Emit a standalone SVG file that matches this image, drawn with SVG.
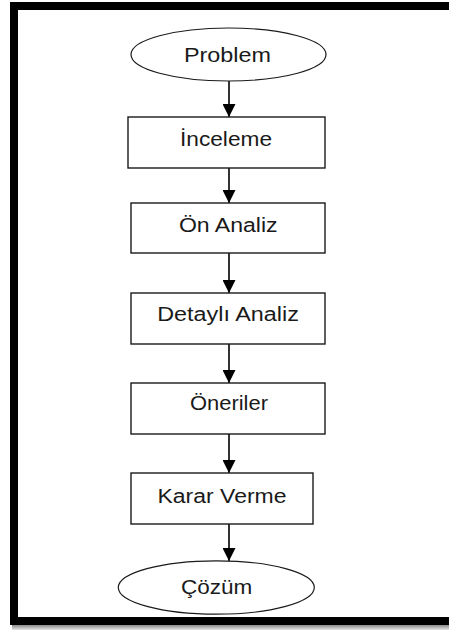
<svg xmlns="http://www.w3.org/2000/svg" width="449" height="630" viewBox="0 0 449 630">
<defs>
<style>
.box{fill:#fff;stroke:#1a1a1a;stroke-width:1.4}
.ell{fill:#fff;stroke:#1a1a1a;stroke-width:1.2}
.lbl{font-family:"Liberation Sans",Arial,sans-serif;font-size:20px;fill:#1a1a1a;text-anchor:middle}
.con{stroke:#000;stroke-width:1.6;fill:none;marker-end:url(#arr)}
</style>
<marker id="arr" markerUnits="userSpaceOnUse" markerWidth="13" markerHeight="13" refX="13" refY="6.5" orient="auto" viewBox="0 0 13 13">
<path d="M0,0 L13,6.5 L0,13 Z" fill="#000"/>
</marker>
<linearGradient id="sh" x1="0" y1="0" x2="0" y2="1">
<stop offset="0" stop-color="#8a8a8a"/>
<stop offset="1" stop-color="#e6e6e6"/>
</linearGradient>
</defs>
<rect width="449" height="630" fill="#fff"/>
<rect x="12" y="625" width="440" height="5" fill="url(#sh)"/>
<path d="M460,6 H14 V621 H460" fill="none" stroke="#000" stroke-width="8"/>
<g id="connectors">
<line class="con" x1="229" y1="81" x2="229" y2="117"/>
<line class="con" x1="229" y1="168" x2="229" y2="203"/>
<line class="con" x1="229" y1="253" x2="229" y2="293"/>
<line class="con" x1="229" y1="344" x2="229" y2="383"/>
<line class="con" x1="229" y1="434" x2="229" y2="473"/>
<line class="con" x1="229" y1="524" x2="229" y2="561"/>
</g>
<g id="problem">
<ellipse class="ell" cx="228.5" cy="54.5" rx="97.5" ry="26.5"/>
<text class="lbl" x="227.5" y="61.5" textLength="87" lengthAdjust="spacingAndGlyphs">Problem</text>
</g>
<g id="inceleme">
<rect class="box" x="128" y="117" width="197" height="51"/>
<text class="lbl" x="226" y="146" textLength="92" lengthAdjust="spacingAndGlyphs">İnceleme</text>
</g>
<g id="on-analiz">
<rect class="box" x="131" y="203" width="194" height="50"/>
<text class="lbl" x="228.3" y="232.3" textLength="98.7" lengthAdjust="spacingAndGlyphs">Ön Analiz</text>
</g>
<g id="detayli-analiz">
<rect class="box" x="131" y="293" width="194" height="51"/>
<text class="lbl" x="228" y="321" textLength="141.7" lengthAdjust="spacingAndGlyphs">Detaylı Analiz</text>
</g>
<g id="oneriler">
<rect class="box" x="131" y="383" width="194" height="51"/>
<text class="lbl" x="229" y="410" textLength="78" lengthAdjust="spacingAndGlyphs">Öneriler</text>
</g>
<g id="karar-verme">
<rect class="box" x="131" y="473" width="182" height="51"/>
<text class="lbl" x="222" y="503.3" textLength="129" lengthAdjust="spacingAndGlyphs">Karar Verme</text>
</g>
<g id="cozum">
<ellipse class="ell" cx="216.3" cy="587.5" rx="98" ry="26.7"/>
<text class="lbl" x="216.7" y="594" textLength="71.3" lengthAdjust="spacingAndGlyphs">Çözüm</text>
</g>
</svg>
